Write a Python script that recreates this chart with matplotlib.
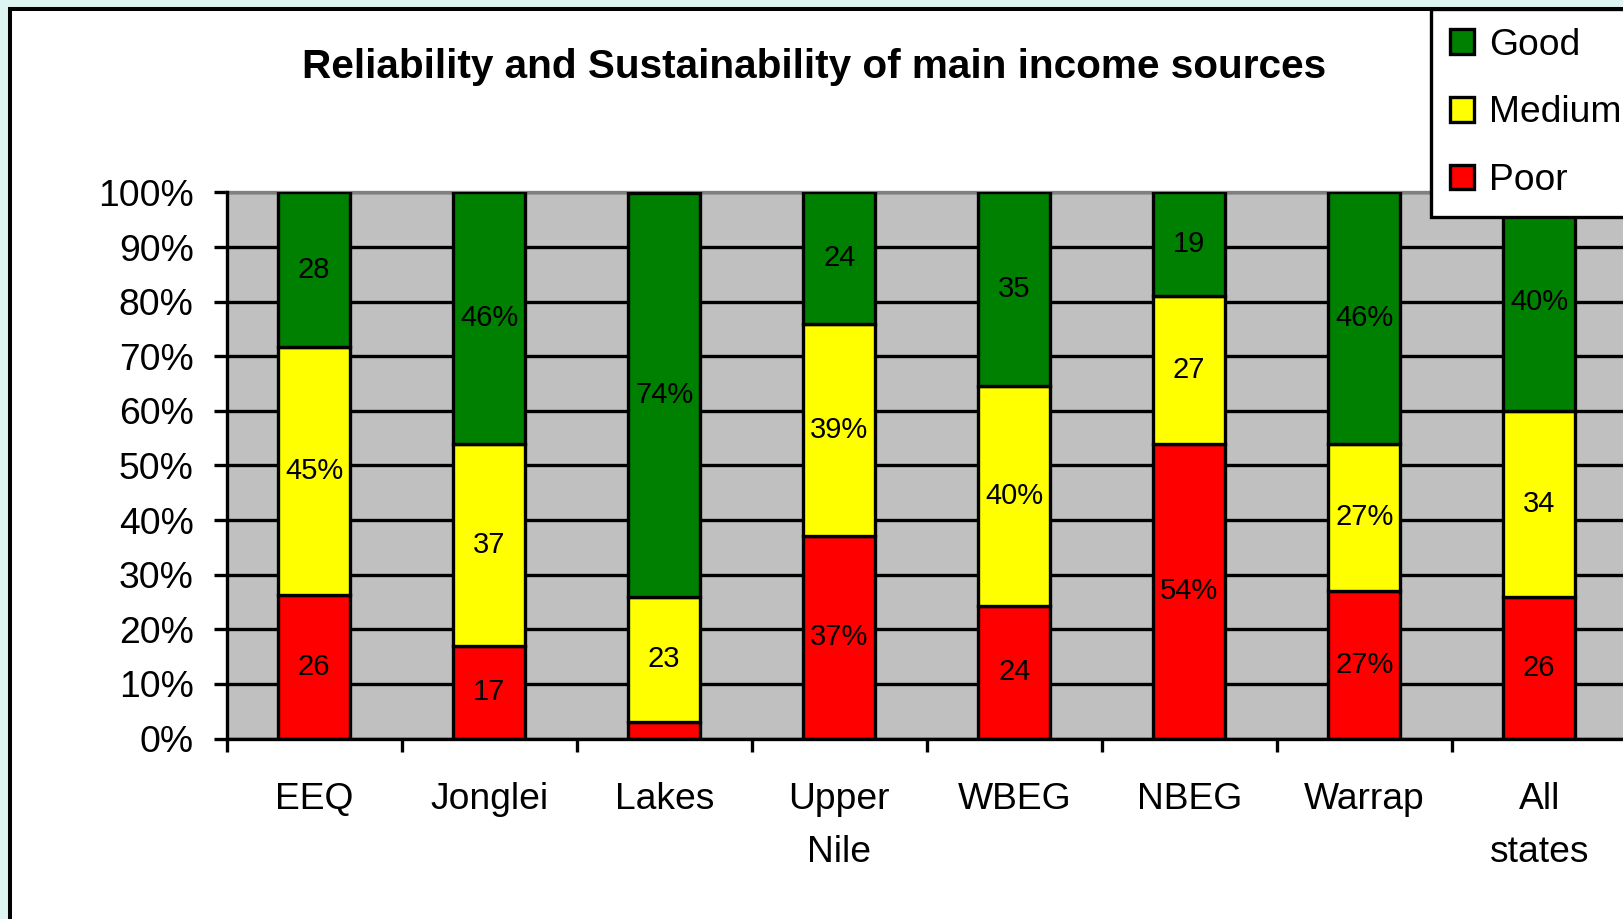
import matplotlib
matplotlib.use("Agg")
import matplotlib.pyplot as plt
from matplotlib.patches import Rectangle, Patch
import numpy as np

# ---- data ----
categories = ["EEQ", "Jonglei", "Lakes", "Upper\nNile", "WBEG", "NBEG", "Warrap", "All\nstates"]
good = [28, 46, 74, 24, 35, 19, 46, 40]
medium = [45, 37, 23, 39, 40, 27, 27, 34]
poor = [26, 17, 3, 37, 24, 54, 27, 26]
good_labels = ["28", "46%", "74%", "24", "35", "19", "46%", "40%"]
medium_labels = ["45%", "37", "23", "39%", "40%", "27", "27%", "34"]
poor_labels = ["26", "17", "", "37%", "24", "54%", "27%", "26"]
series_names = ["Good", "Medium", "Poor"]
yticks = [0, 10, 20, 30, 40, 50, 60, 70, 80, 90, 100]
title = "Reliability and Sustainability of main income sources"

plt.rcParams['font.family'] = ['Liberation Sans', 'DejaVu Sans']

W, H = 1623, 919
DPI = 100
fig = plt.figure(figsize=(W / DPI, H / DPI), dpi=DPI)
fig.patch.set_facecolor('#DCF5F0')

# white chart area with black border
bg = Rectangle((10 / W, -0.05), 1.1, 1.05 - 9 / H, transform=fig.transFigure,
               facecolor='white', edgecolor='black', linewidth=2.9, zorder=-10)
fig.patches.append(bg)

LW = 2.4
ax_left, ax_right = 226.7, 1626.7
ax_top, ax_bottom = 192.5, 738.5
ax = fig.add_axes([ax_left / W, 1 - ax_bottom / H, (ax_right - ax_left) / W, (ax_bottom - ax_top) / H])
ax.set_zorder(1)
ax.set_facecolor('#C0C0C0')

g = np.array(good, float)
m = np.array(medium, float)
p = np.array(poor, float)
tot = g + m + p
gn, mn, pn = g / tot * 100, m / tot * 100, p / tot * 100
x = np.arange(len(categories))
bw = 0.41

ax.bar(x, pn, width=bw, color='#FF0000', edgecolor='black', linewidth=LW, zorder=2)
ax.bar(x, mn, bottom=pn, width=bw, color='#FFFF00', edgecolor='black', linewidth=LW, zorder=2)
ax.bar(x, gn, bottom=pn + mn, width=bw, color='#008000', edgecolor='black', linewidth=LW, zorder=2)

for i in range(len(categories)):
    for val, bot, lab in ((pn[i], 0, poor_labels[i]), (mn[i], pn[i], medium_labels[i]),
                          (gn[i], pn[i] + mn[i], good_labels[i])):
        if lab:
            ax.text(x[i], bot + val / 2, lab, ha='center', va='center', fontsize=21, color='black', zorder=3)

ax.set_xlim(-0.5, len(categories) - 0.5)
ax.set_ylim(0, 100)
ax.set_yticks(yticks)
ax.set_yticklabels([f"{v}%" for v in yticks])
ax.yaxis.grid(True, color='black', linewidth=LW, zorder=0.5)
ax.set_axisbelow(True)

ax.set_xticks(x)
ax.set_xticklabels(categories, linespacing=1.7)
ax.set_xticks(np.arange(len(categories) + 1) - 0.5, minor=True)
ax.tick_params(axis='x', which='major', length=0, pad=31, labelsize=26.8)
ax.tick_params(axis='x', which='minor', length=9.4, width=LW, direction='out', color='black')
ax.tick_params(axis='y', which='major', length=9.4, width=LW, direction='out', pad=14.4, labelsize=26.8)

for side in ('left', 'bottom'):
    ax.spines[side].set_color('black')
    ax.spines[side].set_linewidth(LW)
ax.spines['top'].set_color('#808080')
ax.spines['top'].set_linewidth(LW)
ax.spines['top'].set_zorder(1.5)
ax.spines['right'].set_visible(False)

fig.text(813.6 / W, 1 - 78 / H, title, ha='center', va='baseline', fontsize=29.2, fontweight='bold')

handles = [Patch(facecolor=c, edgecolor='black', linewidth=LW) for c in ('#008000', '#FFFF00', '#FF0000')]
leg = fig.legend(handles, series_names, loc='upper left', bbox_to_anchor=(1431 / W, 1 - 9 / H),
                 bbox_transform=fig.transFigure, borderaxespad=0, fontsize=26.8, frameon=True,
                 fancybox=False, shadow=False, handlelength=0.65, handleheight=0.65,
                 handletextpad=0.4, borderpad=0.5, labelspacing=0.88)
leg.set_zorder(5)
leg.get_frame().set_edgecolor('black')
leg.get_frame().set_linewidth(LW)
leg.get_frame().set_facecolor('white')
leg.get_frame().set_alpha(1)

fig.savefig('out.png', dpi=DPI, facecolor=fig.get_facecolor())
